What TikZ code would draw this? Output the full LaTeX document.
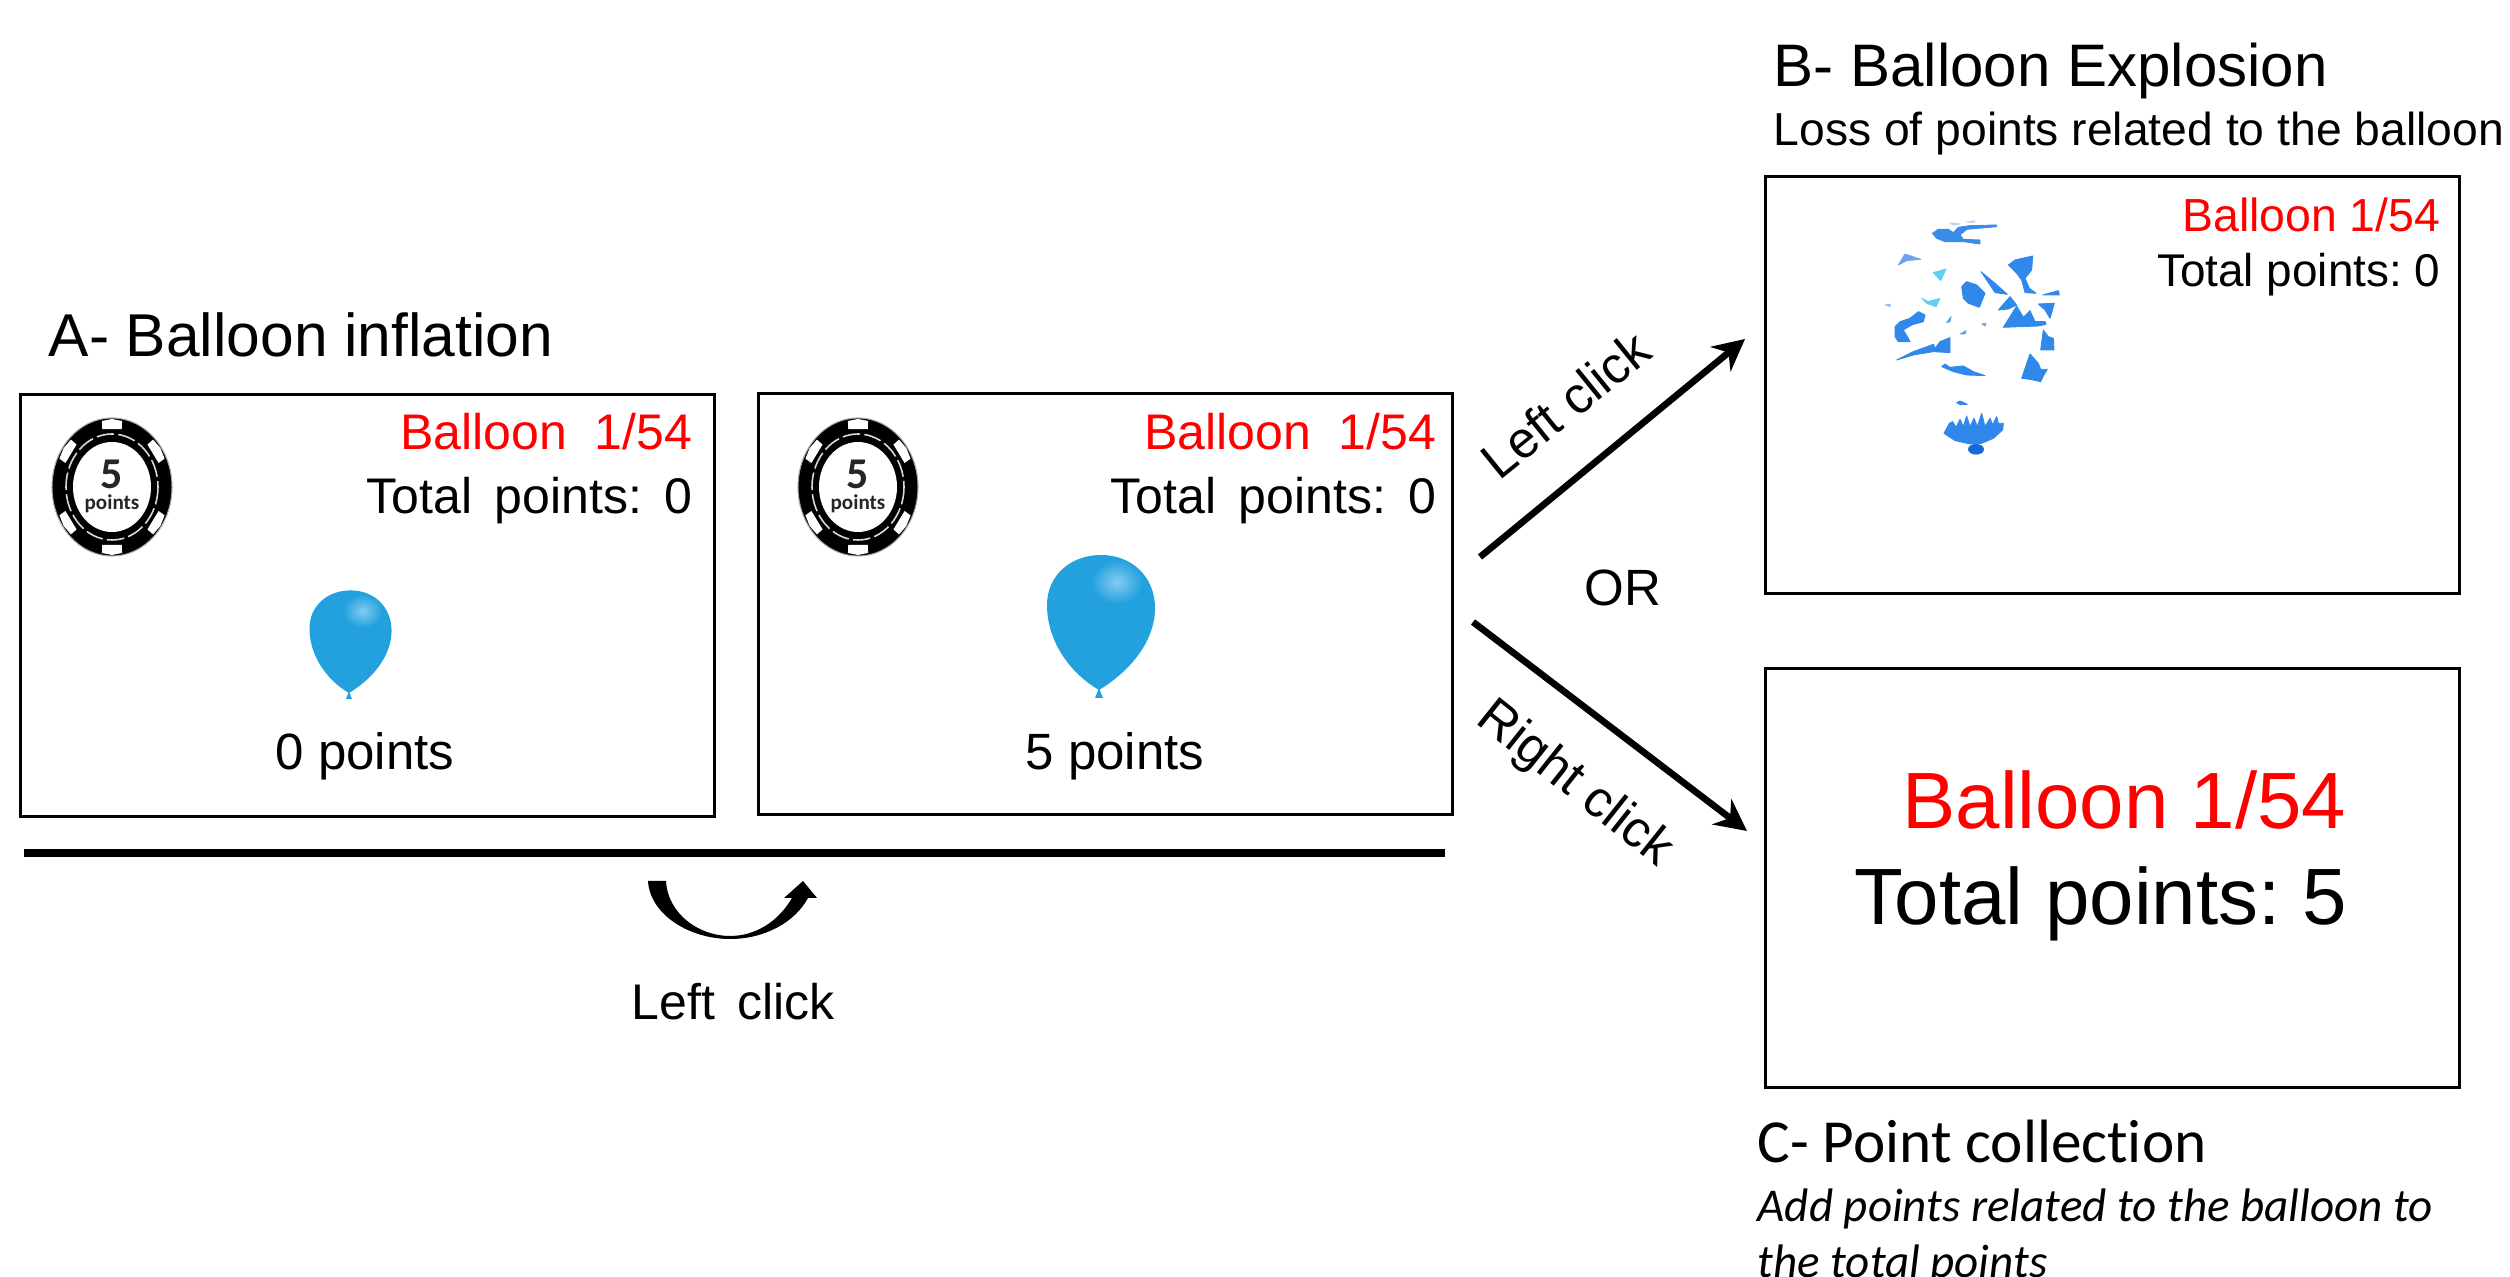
\documentclass[tikz,border=0pt]{standalone}
\usepackage{fontspec}
\setmainfont{Liberation Sans}
\newfontfamily\widesans[WordSpace=1.6]{Liberation Sans}
\newfontfamily\carlito[Ligatures=NoCommon]{Carlito}
\usetikzlibrary{arrows.meta}
\definecolor{balloonblue}{HTML}{22A1DE}
\definecolor{balloonlight}{HTML}{85CBF0}
\definecolor{shardblue}{HTML}{2F88EA}
\definecolor{shardpale}{HTML}{6FA3EA}
\definecolor{shardcyan}{HTML}{62CDF2}
\definecolor{shardknot}{HTML}{1668D8}
\definecolor{ballred}{HTML}{FF0000}
\frenchspacing
\tikzset{
  panel/.style={draw,line width=0.85pt,anchor=north west,inner sep=0pt},
  txt/.style={inner sep=0pt,anchor=base},
  txtr/.style={inner sep=0pt,anchor=base east},
  txtl/.style={inner sep=0pt,anchor=base west},
  choice/.style={line width=1.9pt,-{Stealth[length=9pt,width=9pt]}},
  shard/.style={fill=#1,draw=#1,line width=0.25pt,line join=round},
  balloon/.pic={
    \fill [balloonblue] (-4,8)--(0,-2)--(4,8)--cycle;
    \fill [balloonblue] (0,0) .. controls (-28,-16) and (-52,-48) .. (-52,-85)
      .. controls (-52,-115) and (-28,-135) .. (2,-135)
      .. controls (34,-135) and (56,-112) .. (56,-82)
      .. controls (56,-48) and (30,-18) .. (0,0);
    \shade [inner color=balloonlight,outer color=balloonblue] (18,-108) ellipse (26 and 22);
  },
  chip/.pic={
    \fill [black] (0,0) ellipse (60 and 69);
    \foreach \ang in {90,35,145,215,270,325}
      \fill [white] (\ang-10:58 and 67)--(\ang:59 and 68)--(\ang+10:58 and 67)
        --(\ang+11:51 and 59)--(\ang-11:51 and 59)--cycle;
    \draw [gray!70,line width=0.3pt] (0,0) ellipse (60 and 69);
    \draw [white!85!black,line width=0.45pt,dash pattern=on 5pt off 1.2pt] (0,0) ellipse (46 and 53);
    \fill [white] (0,0) ellipse (39 and 45);
    \node [inner sep=0pt,text=black!85] (five) at (0,-13) {\carlito\bfseries\fontsize{12.5}{12.5}\selectfont 5};
    \node [inner sep=0pt,text=black!85] (word) at (0,17) {\carlito\bfseries\fontsize{6}{6}\selectfont points};
  }
}
\begin{document}
\begin{tikzpicture}[x=0.01cm,y=-0.01cm]
  \useasboundingbox (0,0) rectangle (2510,1277);
  % panels
  \node [panel,minimum width=6.94cm,minimum height=4.22cm] (inflatea) at (19,393) {};
  \node [panel,minimum width=6.94cm,minimum height=4.21cm] (inflateb) at (757,392) {};
  \node [panel,minimum width=6.94cm,minimum height=4.17cm] (burst) at (1764,175) {};
  \node [panel,minimum width=6.94cm,minimum height=4.19cm] (collect) at (1764,667) {};
  % titles
  \node [txtl,font=\fontsize{17.2}{20}\selectfont] (titlea) at (48,357) {A- Balloon inflation};
  \node [txtl,font=\fontsize{17.07}{20}\selectfont] (titleb) at (1773,87) {B- Balloon Explosion};
  \node [txtl,font=\fontsize{13.15}{16}\selectfont] (subb) at (1773,146) {Loss of points related to the balloon};
  \node [txtl,font=\carlito\fontsize{17.4}{20}\selectfont] (titlec) at (1757,1162) {C- Point collection};
  \node [txtl,font=\carlito\itshape\fontsize{13.37}{15}\selectfont] (subc) at (1757,1221) {Add points related to the balloon to};
  \node [txtl,font=\carlito\itshape\fontsize{13.37}{15}\selectfont] (subcc) at (1757,1277) {the total points};
  % first panel
  \pic (chipa) at (112,487) {chip};
  \node [txtr,text=ballred,font=\fontsize{14.23}{16}\selectfont] (rounda) at (693,450) {Balloon\ \ 1/54};
  \node [txtr,font=\widesans\fontsize{14.23}{16}\selectfont] (totala) at (693,514) {Total points: 0};
  \pic [scale=.76] (smallb) at (349,693) {balloon};
  \node [txt,font=\fontsize{14.5}{16}\selectfont] (pointsa) at (365,770) {0 points};
  % second panel
  \pic (chipb) at (858,487) {chip};
  \node [txtr,text=ballred,font=\fontsize{14.23}{16}\selectfont] (roundb) at (1437,450) {Balloon\ \ 1/54};
  \node [txtr,font=\widesans\fontsize{14.23}{16}\selectfont] (totalb) at (1437,514) {Total points: 0};
  \pic (bigb) at (1099,690) {balloon};
  \node [txt,font=\fontsize{14.5}{16}\selectfont] (pointsb) at (1115,770) {5 points};
  % bar and curved arrow under the panels
  \coordinate (barl) at (24,853);
  \coordinate (barr) at (1445,853);
  \draw [line width=2.3pt] (barl)--(barr);
  \fill (648,881) .. controls (650,915) and (690,939) .. (730,939)
    .. controls (765,939) and (795,922) .. (808,898) -- (817,898) -- (803,881) -- (784,898) -- (792,898)
    .. controls (778,922) and (755,936) .. (730,936)
    .. controls (700,936) and (668,915) .. (666,881) -- cycle;
  \node [txt,font=\widesans\fontsize{14.23}{16}\selectfont] (clickc) at (733,1019) {Left click};
  % exploded balloon
  \begin{scope}[shift={(1870,210)},xscale=0.3333,yscale=0.3333]
    \path [shard=shardblue!85!shardpale] (187,70)--(205,58)--(235,58)--(250,68)--(265,52)--(300,47)--(380,45)--(380,50)--(290,58)--(270,75)--(280,88)--(330,90)--(330,102)--(280,95)--(225,95)--(200,85)--cycle;
    \path [shard=shardpale!50] (240,39)--(270,42)--(250,45)--cycle;
    \path [shard=shardpale!50] (290,36)--(315,33)--(312,37)--cycle;
    \path [shard=shardpale] (85,165)--(105,132)--(152,148)--(110,152)--cycle;
    \path [shard=shardcyan] (190,188)--(228,177)--(212,212)--cycle;
    \path [shard=shardcyan] (155,265)--(175,275)--(210,265)--(198,290)--(170,280)--cycle;
    \path [shard=shardpale!70] (45,285)--(62,283)--(58,290)--cycle;
    \path [shard=shardblue] (75,350)--(90,335)--(120,325)--(145,305)--(165,315)--(160,335)--(125,345)--(100,360)--(115,385)--(120,395)--(85,395)--(75,380)--cycle;
    \path [shard=shardblue] (275,230)--(290,215)--(320,225)--(345,250)--(328,292)--(295,280)--(280,265)--cycle;
    \path [shard=shardblue] (333,185)--(375,220)--(412,253)--(375,248)--(360,225)--cycle;
    \path [shard=shardblue] (385,300)--(420,260)--(440,285)--(415,297)--cycle;
    \path [shard=shardblue] (415,165)--(435,150)--(488,138)--(485,180)--(465,205)--(478,235)--(498,250)--(465,248)--(455,210)--(440,190)--cycle;
    \path [shard=shardblue] (518,255)--(565,242)--(568,255)--cycle;
    \path [shard=shardblue] (505,282)--(553,280)--(540,325)--(525,300)--cycle;
    \path [shard=shardblue] (400,352)--(440,288)--(460,322)--(480,302)--(495,335)--(525,335)--(528,343)--(505,348)--cycle;
    \path [shard=shardblue] (512,420)--(520,360)--(535,380)--(550,385)--(552,420)--cycle;
    \path [shard=shardblue] (455,505)--(480,432)--(505,460)--(512,478)--(532,478)--(520,498)--(512,515)--(480,508)--cycle;
    \path [shard=shardblue] (80,450)--(130,425)--(190,403)--(195,415)--(210,395)--(240,383)--(240,428)--(190,425)--(130,435)--cycle;
    \path [shard=shardblue] (215,470)--(225,462)--(240,472)--(280,468)--(310,485)--(345,497)--(290,495)--(250,485)--cycle;
    \path [shard=shardblue!80] (230,338)--(243,320)--(240,335)--cycle;
    \path [shard=shardblue!80] (270,372)--(288,362)--(285,372)--cycle;
    \path [shard=shardblue!70] (335,342)--(348,340)--(346,348)--cycle;
    \path [shard=shardblue] (260,578)--(270,573)--(292,583)--(270,584)--cycle;
    \path [shard=shardblue] (222,670)--(238,640)--(248,635)--(258,652)--(270,628)--(280,650)--(290,618)--(300,650)--(312,625)--(322,650)--(335,610)--(345,650)--(360,625)--(368,645)--(380,620)--(385,640)--(400,640)--(398,660)--(370,685)--(335,700)--(300,702)--(255,692)--cycle;
    \fill [shardknot] (318,718) ellipse (24 and 16);
  \end{scope}
  \node [txtr,text=ballred,font=\fontsize{13.2}{15}\selectfont] (roundc) at (2441,232) {Balloon 1/54};
  \node [txtr,font=\fontsize{13.05}{15}\selectfont] (totalc) at (2441,287) {Total points: 0};
  % big texts
  \node [txtr,text=ballred,font=\fontsize{22.7}{25}\selectfont] (roundd) at (2347,829) {Balloon 1/54};
  \node [txtr,font=\fontsize{22.7}{26}\selectfont] (totald) at (2348,925) {Total points: 5};
  % the two choices
  \coordinate (lefts) at (1480,557);
  \coordinate (lefte) at (1745,339);
  \coordinate (rights) at (1473,622);
  \coordinate (righte) at (1747,831);
  \draw [choice] (lefts)--(lefte);
  \draw [choice] (rights)--(righte);
  \node [txt,rotate=39,font=\fontsize{14.6}{16}\selectfont] (clicka) at (1577,419) {Left click};
  \node [txt,rotate=-38.5,font=\fontsize{14.6}{16}\selectfont] (clickb) at (1566,795) {Right click};
  \node [txt,font=\fontsize{14.5}{16}\selectfont] (orword) at (1623,606) {OR};
\end{tikzpicture}
\end{document}
